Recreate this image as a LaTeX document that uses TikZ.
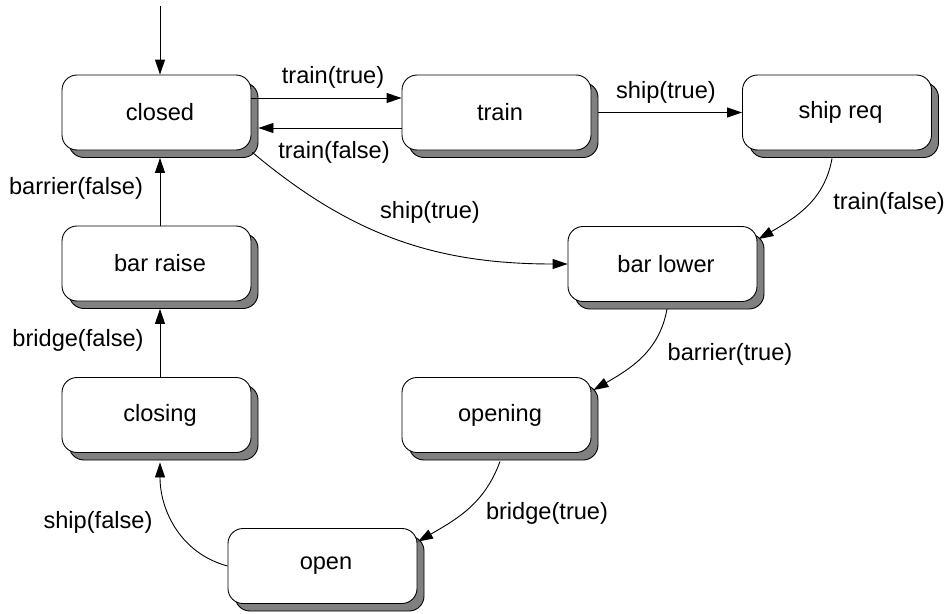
\documentclass[tikz,border=0pt]{standalone}
\usepackage{fontspec}
\setmainfont{Liberation Sans}
\usetikzlibrary{shadows,arrows.meta}
\definecolor{shadowgray}{HTML}{808080}
\tikzset{
  state/.style={draw=black, line width=0.9pt, fill=white, rounded corners=15pt,
    minimum width=189pt, minimum height=75pt, inner sep=0pt,
    general shadow={shadow xshift=7pt, shadow yshift=-7.5pt, fill=shadowgray, draw=black, line width=0.9pt},
    label={[font=\fontsize{23.6}{28}\selectfont, xshift=3.5pt]center:#1}},
  arr/.style={draw=black, line width=0.9pt, -{Triangle[length=15pt,width=10pt]}},
  lab/.style={font=\fontsize{23.6}{28}\selectfont, inner sep=0pt}
}
\begin{document}
\begin{tikzpicture}[x=1pt,y=-1pt]
\useasboundingbox (0,0) rectangle (947,613);
\node[state=closed] (closed) at (156.5,112.5) {};
\node[state=train] (train) at (496.5,112.5) {};
\node[state={ship req}] (shipreq) at (837,112.5) {};
\node[state={bar lower}] (barlower) at (662.5,264) {};
\node[state={bar raise}] (barraise) at (156.5,263.5) {};
\node[state=closing] (closing) at (156.5,415) {};
\node[state=opening] (opening) at (496.5,415) {};
\node[state=open] (open) at (322.5,566) {};

\coordinate (start) at (160,6);
\draw[arr] (start) -- ([xshift=3.5pt]closed.north);

\draw[arr] ([yshift=14.5pt]closed.east) -- ([yshift=14.5pt]train.west);
\draw[arr] ([yshift=-15.5pt]train.west) -- ([xshift=7pt,yshift=-15.5pt]closed.east);
\draw[arr] ([xshift=7pt]train.east) -- (shipreq.west);
\draw[arr] ([xshift=-5pt,yshift=-8pt]shipreq.south) to[out=-100,in=30] ([xshift=1pt,yshift=-13pt]barlower.north east);
\draw[arr] ([xshift=1pt,yshift=-2pt]closed.south east) to[out=-40,in=180] (barlower.west);
\draw[arr] ([xshift=4.5pt,yshift=-7pt]barlower.south) to[out=-100,in=30] ([xshift=2pt,yshift=-13pt]opening.north east);
\draw[arr] ([xshift=3.5pt,yshift=-8.5pt]opening.south) to[out=-110,in=30] ([xshift=0.5pt,yshift=-13.5pt]open.north east);
\draw[arr] (open.west) to[out=165,in=-90] ([xshift=3.5pt,yshift=-9.5pt]closing.south);
\draw[arr] ([xshift=3.5pt]closing.north) -- ([xshift=3.5pt,yshift=-7.5pt]barraise.south);
\draw[arr] ([xshift=3.5pt]barraise.north) -- ([xshift=3.5pt,yshift=-7.5pt]closed.south);

\node[lab] (l1) at (333,77) {train(true)};
\node[lab] (l2) at (334,152) {train(false)};
\node[lab] (l3) at (666,92) {ship(true)};
\node[lab] (l4) at (889,203) {train(false)};
\node[lab] (l5) at (430,212) {ship(true)};
\node[lab] (l6) at (730,354) {barrier(true)};
\node[lab] (l7) at (547,513) {bridge(true)};
\node[lab] (l8) at (98,522) {ship(false)};
\node[lab] (l9) at (78,340) {bridge(false)};
\node[lab] (l10) at (76,188) {barrier(false)};
\end{tikzpicture}
\end{document}
